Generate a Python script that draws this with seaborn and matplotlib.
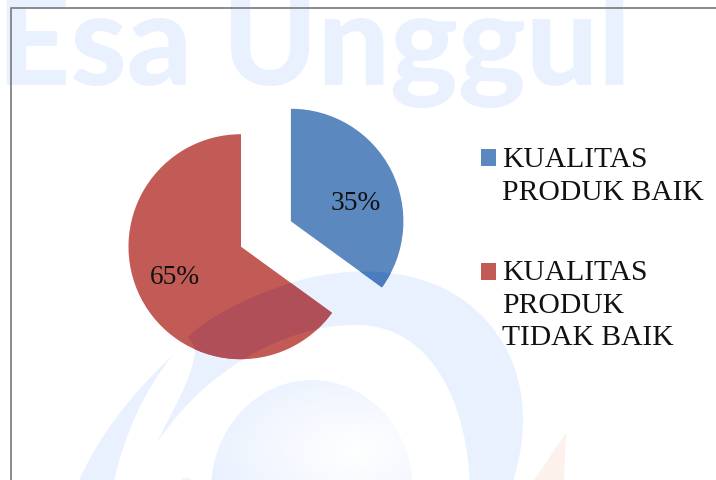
import numpy as np
import pandas as pd
import seaborn as sns
from matplotlib import pyplot as plt
from matplotlib.patches import PathPatch, Ellipse, Polygon
from matplotlib.path import Path

categories = ["KUALITAS\nPRODUK BAIK", "KUALITAS\nPRODUK\nTIDAK BAIK"]
values = [35, 65]
slice_colors = ["#5B88BF", "#C25B56"]
overlap_colors = ["#4A7CBF", "#B04F58"]
watermark = "Esa Unggul"

df = pd.DataFrame({"category": categories, "value": values})

sns.set_theme(style="white")
plt.rcParams["font.family"] = ["Liberation Serif", "DejaVu Serif"]

W, H = 716, 480
fig = plt.figure(figsize=(W / 100, H / 100), dpi=100)
ax = fig.add_axes([0, 0, 1, 1])


def flip(pts):
    return [(x, H - y) for x, y in pts]


# logo shape behind the chart, pixel coords from the picture
ring_pts = [(157, 443), (205, 370), (285, 325), (356, 325),
            (430, 325), (468, 400), (470, 490),
            (490, 490), (505, 490), (510, 490),
            (535, 420), (525, 350), (470, 305),
            (425, 268), (350, 262), (285, 285),
            (240, 300), (205, 320), (188, 337),
            (192, 342), (196, 347), (195, 352),
            (192, 380), (172, 410), (157, 443)]
ring_codes = [Path.MOVETO] + [Path.CURVE4] * (len(ring_pts) - 1)
ring_path = Path(flip(ring_pts), ring_codes)
ax.add_patch(PathPatch(ring_path, fc="#EAF1FE", ec="none", zorder=1))

swoosh_pts = [(173, 355), (130, 395), (95, 440), (75, 490),
              (88, 490), (100, 490), (112, 490),
              (125, 430), (145, 390), (173, 355)]
swoosh_codes = [Path.MOVETO] + [Path.CURVE4] * (len(swoosh_pts) - 1)
ax.add_patch(PathPatch(Path(flip(swoosh_pts), swoosh_codes), fc="#EAF1FE", ec="none", zorder=1))

# inner bubble with the soft gradient
gx, gy = np.meshgrid(np.linspace(200, 425, 120), np.linspace(370, 480, 60))
dist = np.clip(np.hypot((gx - 355) / 150, (gy - 450) / 90), 0, 1)
grad = np.zeros(dist.shape + (3,))
for i, (a, b) in enumerate(zip((255, 255, 255), (234, 241, 254))):
    grad[..., i] = (a + (b - a) * dist) / 255
img = ax.imshow(grad, extent=(200, 425, H - 480, H - 370), origin="upper", zorder=1, aspect="auto")
img.set_clip_path(Ellipse((312, H - 490), 202, 220, transform=ax.transData))

ax.add_patch(Polygon(flip([(566, 433), (534, 480), (564, 480)]), fc="#FDF1EC", ec="none", zorder=1))
ax.add_patch(Polygon(flip([(186, 477), (181, 480), (192, 480)]), fc="#FDF1EC", ec="none", zorder=1))

ax.text(-3, H - 85, watermark, family="Lato", weight="black", fontsize=92,
        color="#EAF1FE", ha="left", va="baseline", zorder=1)

# the frame shows only on top and left
ax.plot([10.5, 10.5, W], [0, H - 8, H - 8], color="#8A8A8A", lw=1.4, zorder=2)

wedges, texts, pcts = ax.pie(
    df["value"],
    colors=slice_colors,
    explode=[56, 0],  # explode is in data units here since radius is in pixels
    startangle=90,
    counterclock=False,
    center=(241, H - 246.7),
    radius=112.5,
    autopct="%d%%",
    textprops={"fontsize": 19.7, "color": "#111111"},
    wedgeprops={"linewidth": 0},
    frame=True,
)
for w in wedges:
    w.set_zorder(3)
for t, pos in zip(pcts, [(356, 204), (175, 277)]):
    t.set_position((pos[0], H - pos[1]))
    t.set_zorder(5)

# logo shows through the slices
for w, c in zip(wedges, overlap_colors):
    over = PathPatch(ring_path, fc=c, ec="none", zorder=4)
    ax.add_patch(over)
    over.set_clip_path(w)

leg = ax.legend(
    wedges, df["category"],
    loc="upper left",
    bbox_to_anchor=(481, H - 147),
    bbox_transform=ax.transData,
    frameon=False,
    prop={"family": "Liberation Serif", "size": 21.3},
    handlelength=0.51,
    handleheight=0.51,
    handletextpad=0.2,
    labelspacing=1.84,
    borderpad=0,
    borderaxespad=0,
)
leg.set_zorder(6)
for t in leg.get_texts():
    t.set_color("#111111")
    t.set_linespacing(1.33)
# squares sit on the first line of each entry
for p, shift in zip(leg.get_patches(), [13, 24]):
    p.set_y(p.get_y() + shift)

ax.set_xlim(0, W)
ax.set_ylim(0, H)
ax.set_aspect("auto")
ax.axis("off")

fig.savefig("out.png", dpi=100, facecolor="white")
